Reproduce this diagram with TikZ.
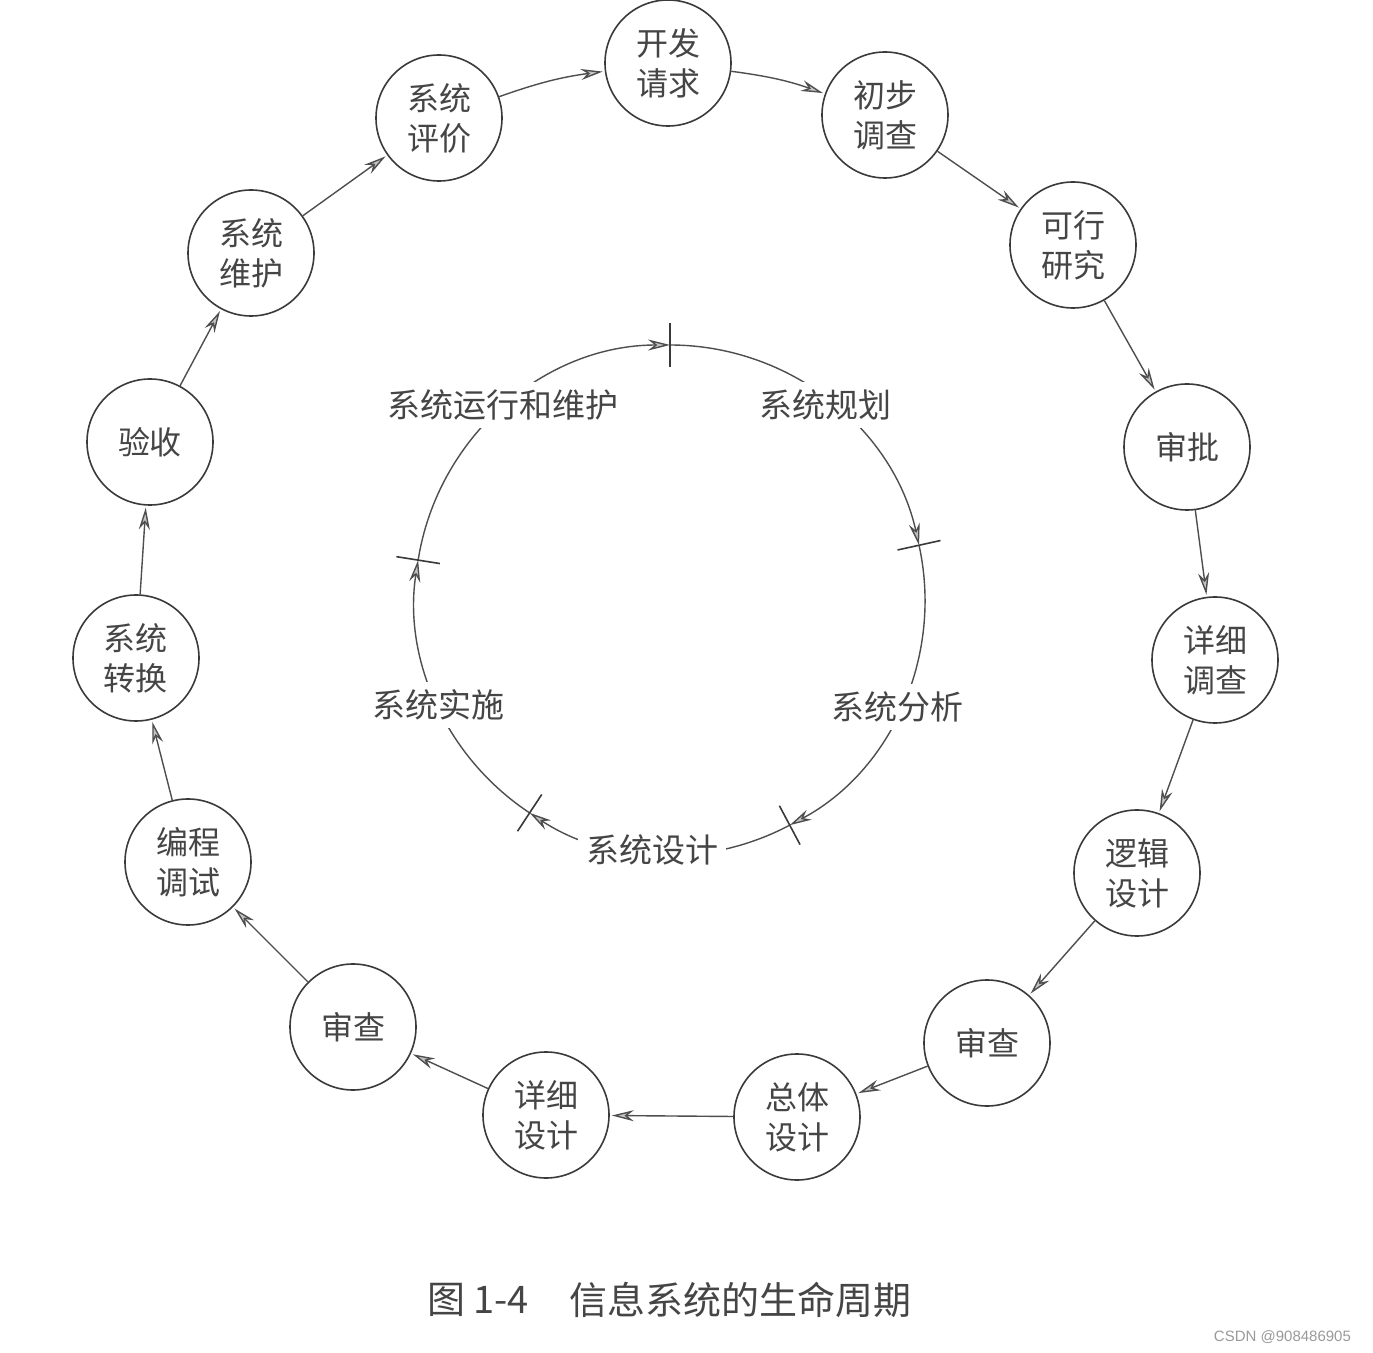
\documentclass[tikz,border=0pt]{standalone}
\usepackage{fontspec}
\newfontfamily\cjk{Noto Sans CJK SC}
\newfontfamily\wmfont{Liberation Sans}
\usetikzlibrary{arrows.meta}
\definecolor{ink}{HTML}{3A3A3A}
\definecolor{txt}{HTML}{454545}
\definecolor{wm}{HTML}{9A9A9A}
\begin{document}
\begin{tikzpicture}[x=0.5pt,y=-0.5pt,
  stage/.style={circle,draw=ink,line width=0.8pt,minimum size=63pt,inner sep=0pt,
    align=center,text=txt,font=\cjk\fontsize{16}{20}\selectfont},
  flow/.style={draw=ink!90,line width=0.7pt,shorten >=1pt,
    -{Stealth[length=11pt,width=5.5pt,inset=3.5pt,fill=ink!30]}},
  phasearc/.style={draw=ink!90,line width=0.7pt,
    -{Stealth[length=11pt,width=5.5pt,inset=3.5pt,fill=ink!30]}},
  phase/.style={fill=white,inner sep=4pt,text=txt,font=\cjk\fontsize{16.5}{20}\selectfont},
  phasetick/.style={draw=ink,line width=0.8pt},
  caption/.style={text=txt,font=\cjk\fontsize{19}{22}\selectfont}
]
\fill[white] (0,0) rectangle (1373,1353);
\useasboundingbox (0,0) rectangle (1373,1353);

% inner cycle
\coordinate (O) at (670,600);
\draw[phasearc] (O) ++(-171:255) arc[start angle=-171,end angle=-90,radius=255];
\draw[phasearc] (O) ++(-90:255) arc[start angle=-90,end angle=-12.4,radius=255];
\draw[phasearc] (O) ++(-12.4:255) arc[start angle=-12.4,end angle=62,radius=255];
\draw[phasearc] (O) ++(62:255) arc[start angle=62,end angle=123.4,radius=255];
\draw[phasearc] (O) ++(123.4:255) arc[start angle=123.4,end angle=189,radius=255];
\foreach \a in {-90,-12.4,62,123.4,189}{
  \draw[phasetick] (O) ++(\a:233) -- ++(\a:44);
}
\node[phase] (p1) at (825,405) {系统规划};
\node[phase] (p2) at (897,707) {系统分析};
\node[phase] (p3) at (652,850) {系统设计};
\node[phase] (p4) at (438,705) {系统实施};
\node[phase] (p5) at (503,405) {系统运行和维护};

% outer cycle
\node[stage] (n1)  at (668,63)   {开发\\请求};
\node[stage] (n2)  at (885,115)  {初步\\调查};
\node[stage] (n3)  at (1073,245) {可行\\研究};
\node[stage] (n4)  at (1187,447) {审批};
\node[stage] (n5)  at (1215,660) {详细\\调查};
\node[stage] (n6)  at (1137,873) {逻辑\\设计};
\node[stage] (n7)  at (987,1043) {审查};
\node[stage] (n8)  at (797,1117) {总体\\设计};
\node[stage] (n9)  at (546,1115) {详细\\设计};
\node[stage] (n10) at (353,1027) {审查};
\node[stage] (n11) at (188,862)  {编程\\调试};
\node[stage] (n12) at (136,658)  {系统\\转换};
\node[stage] (n13) at (150,442)  {验收};
\node[stage] (n14) at (251,253)  {系统\\维护};
\node[stage] (n15) at (439,118)  {系统\\评价};

\draw[flow] (n1) to[bend left=6] (n2);
\draw[flow] (n2) -- (n3);
\draw[flow] (n3) -- (n4);
\draw[flow] (n4) -- (n5);
\draw[flow] (n5) -- (n6);
\draw[flow] (n6) -- (n7);
\draw[flow] (n7) -- (n8);
\draw[flow] (n8) -- (n9);
\draw[flow] (n9) -- (n10);
\draw[flow] (n10) -- (n11);
\draw[flow] (n11) -- (n12);
\draw[flow] (n12) -- (n13);
\draw[flow] (n13) -- (n14);
\draw[flow] (n14) -- (n15);
\draw[flow] (n15) to[bend left=6] (n1);

% caption
\node[caption] (cap1) at (478,1300) {图 1-4};
\node[caption] (cap2) at (740,1300) {信息系统的生命周期};
\node[anchor=east,text=wm,font=\wmfont\fontsize{7.5}{9}\selectfont] (wmark) at (1358,1337) {CSDN @908486905};
\end{tikzpicture}
\end{document}
